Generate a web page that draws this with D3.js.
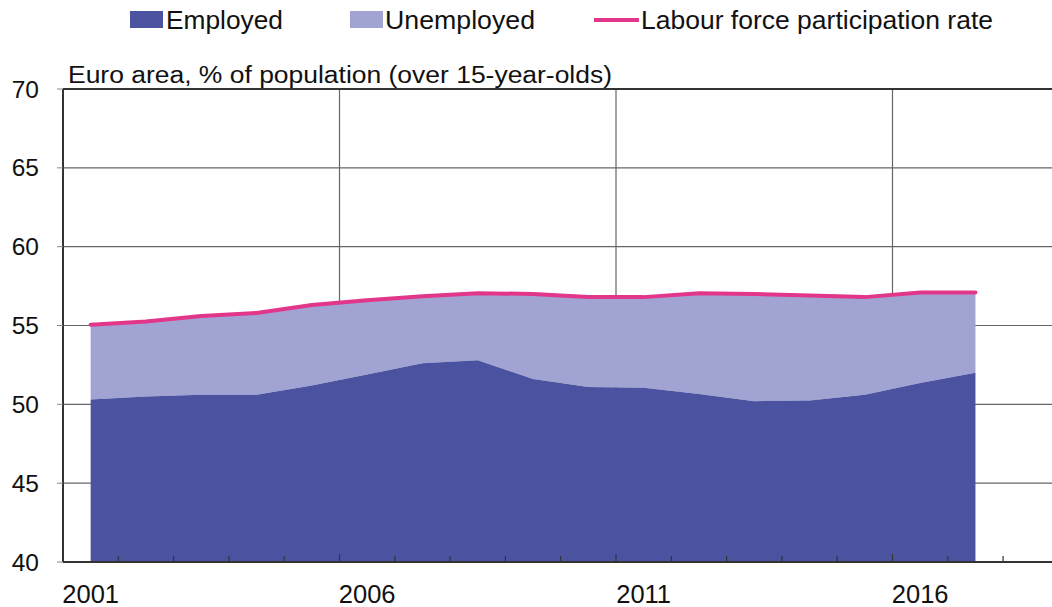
<!DOCTYPE html>
<html><head><meta charset="utf-8">
<script src="https://cdn.jsdelivr.net/npm/d3@7/dist/d3.min.js"></script>
<style>body{margin:0;background:#fff}svg{display:block}text{font-family:"Liberation Sans",Arial,sans-serif;fill:#111}</style>
</head><body><svg id="c" width="1052" height="607"></svg>
<script>
const years = [2001,2002,2003,2004,2005,2006,2007,2008,2009,2010,2011,2012,2013,2014,2015,2016,2017];
const employed = [50.3,50.5,50.6,50.6,51.2,51.9,52.6,52.8,51.6,51.1,51.05,50.65,50.2,50.25,50.6,51.35,52.0];
const participation = [55.05,55.25,55.6,55.8,56.3,56.6,56.85,57.05,57.0,56.8,56.8,57.05,57.0,56.9,56.8,57.1,57.1];
const yTicks = [40,45,50,55,60,65,70];
const xLabels = [2001,2006,2011,2016];
const legendItems = ["Employed","Unemployed","Labour force participation rate"];
const title = "Euro area, % of population (over 15-year-olds)";

const svg = d3.select("#c");
const L = 63, T = 89, B = 562;
const cats = d3.range(2001, 2019);
const x = d3.scaleBand().domain(cats).range([L, L + 18*55.3]).padding(0);
const xc = d => x(d) + x.bandwidth()/2;
const y = d3.scaleLinear().domain([40,70]).range([B, T]);
const cDark = "#4b53a0", cLight = "#a1a4d3", cPink = "#e2368b";

// horizontal gridlines
svg.append("g").selectAll("line").data(yTicks.filter(v=>v>40 && v<70)).join("line")
  .attr("x1", L).attr("x2", 1052).attr("y1", d=>y(d)).attr("y2", d=>y(d))
  .attr("stroke", "#666").attr("stroke-width", 1.2);
// vertical gridlines
svg.append("g").selectAll("line").data(xLabels.filter(v=>v>2001)).join("line")
  .attr("x1", d=>x(d)).attr("x2", d=>x(d)).attr("y1", T).attr("y2", B)
  .attr("stroke", "#666").attr("stroke-width", 1.2);

const data = years.map((yr,i)=>({yr, e: employed[i], p: participation[i]}));
svg.append("path").datum(data)
  .attr("d", d3.area().x(d=>xc(d.yr)).y0(d=>y(d.e)).y1(d=>y(d.p)))
  .attr("fill", cLight);
svg.append("path").datum(data)
  .attr("d", d3.area().x(d=>xc(d.yr)).y0(y(40)).y1(d=>y(d.e)))
  .attr("fill", cDark);
svg.append("path").datum(data)
  .attr("d", d3.line().x(d=>xc(d.yr)).y(d=>y(d.p)))
  .attr("fill", "none").attr("stroke", cPink).attr("stroke-width", 4).attr("stroke-linecap","round");

// x-axis ticks
svg.append("g").selectAll("line").data(cats.concat([2019])).join("line")
  .attr("x1", d=> d===2019 ? L+18*55.3 : x(d)).attr("x2", d=> d===2019 ? L+18*55.3 : x(d))
  .attr("y1", B).attr("y2", d => (d-2001)%5===0 ? B-8 : B-6)
  .attr("stroke", "#333").attr("stroke-width", 1.2);
// axes lines / borders
svg.append("line").attr("x1", L).attr("x2", 1052).attr("y1", B).attr("y2", B).attr("stroke","#333").attr("stroke-width",2);
svg.append("line").attr("x1", L).attr("x2", 1052).attr("y1", T).attr("y2", T).attr("stroke","#333").attr("stroke-width",2);
svg.append("line").attr("x1", L).attr("x2", L).attr("y1", T).attr("y2", B).attr("stroke","#333").attr("stroke-width",2);

// y ticks & labels
svg.append("g").selectAll("line").data(yTicks).join("line")
  .attr("x1", L-6).attr("x2", L).attr("y1", d=>y(d)).attr("y2", d=>y(d)).attr("stroke","#888").attr("stroke-width",1);
svg.append("g").selectAll("text").data(yTicks).join("text")
  .attr("x", 39).attr("y", d=>y(d)+8.5).attr("text-anchor","end").attr("font-size", 24.5).text(d=>d);
// x labels
svg.append("g").selectAll("text").data(xLabels).join("text")
  .attr("x", d=>xc(d)).attr("y", 603).attr("text-anchor","middle").attr("font-size", 25.5).text(d=>d);

// title
svg.append("text").attr("x", 68).attr("y", 83).attr("font-size", 23)
  .attr("textLength", 544).attr("lengthAdjust","spacingAndGlyphs").text(title);

// legend
const lg = svg.append("g");
const sw = [130, 350, 594];
const tx = [166, 385, 641];
const tw = [117, 150, 352];
lg.append("rect").attr("x", sw[0]).attr("y", 11).attr("width", 33).attr("height", 17).attr("fill", cDark);
lg.append("rect").attr("x", sw[1]).attr("y", 11).attr("width", 33).attr("height", 17).attr("fill", cLight);
lg.append("line").attr("x1", sw[2]).attr("x2", sw[2]+45).attr("y1", 20).attr("y2", 20).attr("stroke", cPink).attr("stroke-width", 4);
lg.selectAll("text").data(legendItems).join("text")
  .attr("x", (d,i)=>tx[i]).attr("y", 29).attr("font-size", 25)
  .attr("textLength", (d,i)=>tw[i]).attr("lengthAdjust","spacingAndGlyphs").text(d=>d);
</script></body></html>
